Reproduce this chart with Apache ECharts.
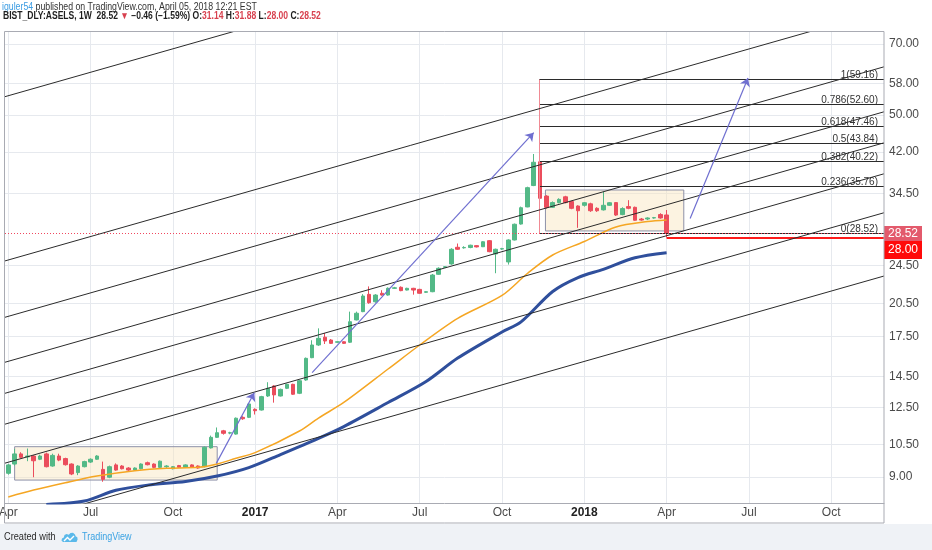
<!DOCTYPE html>
<html>
<head>
<meta charset="utf-8">
<script src="https://cdn.jsdelivr.net/npm/echarts@6/dist/echarts.min.js"></script>
<style>
html,body{margin:0;padding:0;background:#fff;}
#chart{width:932px;height:550px;}
</style>
</head>
<body>
<div id="chart"></div>
<script>
// ---------------- data ----------------
const firstWeek = '2016-04-04';
const opens = [9.16,9.57,10.04,9.90,9.94,9.79,10.04,9.48,9.94,9.82,
  9.57,9.19,9.45,9.66,9.79,9.33,8.99,9.53,9.48,9.39,
  9.30,9.36,9.63,9.57,9.42,9.45,9.36,9.50,9.42,9.53,
  9.48,9.45,10.33,10.86,11.20,11.08,11.03,11.94,11.94,12.40,
  12.36,13.21,13.85,13.21,13.70,13.96,13.38,14.25,15.84,16.82,
  17.45,17.22,17.04,17.08,17.04,18.94,19.70,21.38,20.64,21.49,
  21.31,22.00,22.11,21.82,22.00,21.89,21.59,21.65,23.51,24.30,
  24.69,26.72,26.65,26.69,26.93,26.79,27.57,25.89,26.50,24.93,
  27.66,29.83,32.35,35.80,40.06,34.05,32.29,33.02,33.94,33.18,
  32.49,32.60,32.83,32.14,31.90,32.60,33.02,31.20,32.40,32.29,
  30.55,30.55,30.70,31.20,31.14];
const closes = [9.53,10.04,9.88,9.94,9.72,9.94,9.45,9.97,9.75,9.54,
  9.13,9.48,9.68,9.79,9.94,8.90,9.45,9.30,9.36,9.30,
  9.39,9.57,9.54,9.42,9.70,9.48,9.45,9.42,9.53,9.42,
  9.39,10.36,10.86,11.10,11.07,11.10,11.89,11.86,12.72,12.32,
  13.17,13.70,13.28,13.63,13.96,13.32,14.20,15.79,16.82,17.36,
  17.14,16.95,17.08,16.95,18.78,19.55,21.21,20.55,21.31,21.31,
  22.00,22.05,21.76,22.00,21.82,21.49,21.65,23.43,24.19,24.37,
  26.47,26.47,26.70,26.98,26.77,27.43,26.17,26.47,26.55,27.66,
  29.80,32.23,35.44,39.97,33.70,32.29,33.02,33.53,33.02,32.14,
  31.77,33.00,31.77,31.77,32.60,33.00,31.13,32.10,32.14,30.37,
  30.40,30.70,30.75,30.70,28.52];
const lows = [9.10,9.50,9.84,9.70,8.99,9.75,9.42,9.45,9.70,9.50,
  9.08,9.08,9.42,9.62,9.76,8.80,8.95,9.27,9.33,9.26,
  9.27,9.33,9.51,9.38,9.39,9.40,9.33,9.39,9.39,9.39,
  9.36,9.42,10.30,10.83,11.00,11.02,11.00,11.80,11.90,12.10,
  12.33,13.15,12.80,13.18,13.65,13.28,13.33,14.20,15.80,16.75,
  16.90,16.90,16.98,16.90,16.98,18.90,19.65,20.45,20.55,21.25,
  21.25,21.95,21.70,21.78,21.35,21.45,21.52,21.60,23.45,24.20,
  24.60,26.40,26.55,26.60,26.70,26.75,26.10,23.63,26.40,24.62,
  27.60,29.75,32.30,35.70,33.60,32.10,32.20,32.90,32.90,32.00,
  29.30,32.40,31.60,31.60,31.80,32.50,31.00,31.10,32.00,30.30,
  30.30,30.40,30.60,30.60,28.00];
const highs = [9.58,10.28,10.12,10.30,9.98,10.00,10.10,10.05,10.05,9.86,
  9.60,9.52,9.72,9.83,9.98,9.68,9.50,9.60,9.52,9.43,
  9.42,9.60,9.68,9.60,9.73,9.52,9.48,9.53,9.56,9.56,
  9.51,10.40,10.95,11.38,11.25,11.15,11.93,12.00,12.78,12.46,
  13.22,14.10,13.90,13.68,14.00,14.00,14.25,15.85,17.20,18.20,
  17.80,17.30,17.12,17.12,19.70,19.70,21.40,22.20,21.40,21.80,
  22.10,22.15,22.20,22.06,22.05,21.95,21.70,23.55,24.30,24.45,
  26.60,27.20,26.85,27.05,27.00,27.50,27.65,26.55,26.65,27.75,
  29.90,32.40,35.60,41.57,40.20,34.20,33.20,33.70,34.10,33.30,
  32.60,33.10,33.00,32.30,34.77,33.10,33.10,32.30,33.40,32.40,
  30.70,30.80,30.85,31.40,31.88];

const orangeWeeks  = [0,4,9,14,20,25,30,33,36,39,46,49,53,60,65,71,78,82,86,91,96,101,104];
const orangeValues = [8.19,8.46,8.76,9.04,9.27,9.38,9.42,9.57,9.84,10.10,11.19,11.90,12.81,15.01,16.82,19.08,21.27,23.60,25.76,27.46,29.42,30.19,30.41];
const blueWeeks  = [6,12,17,22,28,33,38,43,49,53,60,66,71,78,81,86,90,94,99,104];
const blueValues = [7.90,8.03,8.45,8.66,8.81,9.04,9.41,10.01,10.81,11.43,12.81,14.15,15.81,17.89,18.76,21.67,23.15,24.07,25.42,26.04];

const priceTicks = [70, 58, 50, 42, 34.5, 24.5, 20.5, 17.5, 14.5, 12.5, 10.5, 9];
const timeTicks = ['2016-04-04','2016-07-04','2016-10-03','2017-01-02','2017-04-03','2017-07-03','2017-10-02','2018-01-01','2018-04-02','2018-07-02','2018-10-01'];
const timeTickLabels = ['Apr','Jul','Oct','2017','Apr','Jul','Oct','2018','Apr','Jul','Oct'];

const fibRatios = ['1','0.786','0.618','0.5','0.382','0.236','0'];
const fibLevels = [59.16,52.60,47.46,43.84,40.22,35.76,28.52];
const fibStart = '2017-11-12';

const channelStartPrices = [54.54,25.05,19.18,15.50,13.38,11.56,9.61,7.12];
const channelEndPrices   = [178.7,82.04,62.83,50.77,43.83,37.85,31.47,23.32];

const boxStarts = ['2016-04-11','2017-11-19'];
const boxEnds   = ['2016-11-21','2018-04-21'];
const boxLows   = [8.87, 28.87];
const boxHighs  = [10.39, 35.05];

const arrowStarts = ['2016-11-20','2017-03-06','2018-04-28'];
const arrowEnds   = ['2017-01-01','2017-11-06','2018-07-01'];
const arrowFrom   = [9.60, 14.75, 30.63];
const arrowTo     = [13.42, 45.99, 59.58];

const lastClose = 28.52, lastLow = 28.00, lastWeek = '2018-04-02';
const axisStart = '2016-03-31T08:24:00Z', axisEnd = '2018-11-28T09:36:00Z';
const priceMin = 7.957, priceMax = 74.09;

// ---------------- build ----------------
const DAY = 86400000;
const t = s => Date.parse(s.length > 10 ? s : s + 'T00:00:00Z');
const xMin = t(axisStart), xMax = t(axisEnd);
const weekDates = opens.map((_, i) => t(firstWeek) + i * 7 * DAY);
const candles = weekDates.map((d, i) => [d, opens[i], closes[i], lows[i], highs[i]]);
const FONT = 'Liberation Sans, Arial, sans-serif';

const gridLines = priceTicks.map(v => ({
  yAxis: v,
  label: {position: 'end', distance: 5, formatter: v.toFixed(2), color: '#4a4a4a', fontSize: 12, fontFamily: FONT}
})).concat(timeTicks.map((d, k) => {
  const isYear = /^\d{4}$/.test(timeTickLabels[k]);
  return {
    xAxis: t(d),
    label: {position: 'start', distance: 4, formatter: timeTickLabels[k],
      color: isYear ? '#222' : '#4a4a4a', fontWeight: isYear ? 'bold' : 'normal', fontSize: 12, fontFamily: FONT}
  };
}));

const fibLines = fibLevels.map((lv, k) => [
  {coord: [t(fibStart), lv], label: {formatter: fibRatios[k] + '(' + lv.toFixed(2) + ')'}},
  {coord: [xMax, lv]}
]);

const channelSeries = channelStartPrices.map((p, k) => ({
  type: 'line', silent: true, showSymbol: false, symbol: 'none', z: 4, clip: true,
  data: [[xMin, p], [xMax, channelEndPrices[k]]],
  lineStyle: {color: '#2b2b2b', width: 1}
}));

const option = {
  animation: false,
  backgroundColor: '#ffffff',
  grid: {left: 5, right: 48, top: 32, bottom: 47, show: false},
  xAxis: {
    type: 'time', min: xMin, max: xMax,
    axisLine: {show: true, onZero: false, lineStyle: {color: '#a9abb3'}},
    axisTick: {show: false}, axisLabel: {show: false}, splitLine: {show: false}
  },
  yAxis: {
    type: 'log', min: priceMin, max: priceMax, position: 'right',
    axisLine: {show: false}, axisTick: {show: false}, axisLabel: {show: false}, splitLine: {show: false}
  },
  series: [
    { // grid lines + axis labels
      type: 'line', data: [], silent: true,
      markLine: {
        silent: true, symbol: ['none', 'none'], z: 0.5, animation: false,
        lineStyle: {color: '#e6e9ee', width: 1, type: 'solid'},
        label: {show: true},
        data: gridLines
      }
    },
    { // rectangles
      type: 'line', data: [], silent: true,
      markArea: {
        silent: true, z: 1,
        itemStyle: {color: 'rgba(249,228,188,0.45)', borderColor: '#8e91a8', borderWidth: 1},
        data: boxStarts.map((s, k) => [{coord: [t(s), boxHighs[k]]}, {coord: [t(boxEnds[k]), boxLows[k]]}])
      }
    },
    {
      type: 'candlestick', z: 2, barWidth: 4,
      encode: {x: 0, y: [1, 2, 3, 4]},
      data: candles,
      itemStyle: {color: '#53b987', color0: '#eb4d5c', borderColor: '#53b987', borderColor0: '#eb4d5c', borderWidth: 1}
    },
    {
      type: 'line', z: 3, showSymbol: false, symbol: 'none', smooth: 0.3, silent: true,
      data: orangeWeeks.map((w, k) => [weekDates[w], orangeValues[k]]),
      lineStyle: {color: '#f5a623', width: 1.5}
    },
    {
      type: 'line', z: 3, showSymbol: false, symbol: 'none', smooth: 0.3, silent: true,
      data: blueWeeks.map((w, k) => [weekDates[w], blueValues[k]]),
      lineStyle: {color: '#2f4f9c', width: 3}
    },
    ...channelSeries,
    { // fib retracement + last price lines
      type: 'line', data: [], silent: true,
      markLine: {
        silent: true, symbol: ['none', 'none'], z: 4, animation: false,
        lineStyle: {color: '#2b2b2b', width: 1, type: 'solid'},
        label: {show: true, position: 'insideEndTop', distance: [6, -1], color: '#333', fontSize: 10, fontFamily: FONT},
        data: fibLines.concat([
          [{coord: [t(fibStart), fibLevels[0]], lineStyle: {color: '#f08a94', width: 1}, label: {show: false}},
           {coord: [t(fibStart), fibLevels[fibLevels.length - 1]]}],
          {yAxis: lastClose, lineStyle: {color: '#f0475f', width: 1, type: [1, 2]}, label: {show: false}},
          [{coord: [t(lastWeek), lastLow], lineStyle: {color: '#ff1a1a', width: 2}, label: {show: false}},
           {coord: [xMax, lastLow]}]
        ])
      }
    },
    { // arrows
      type: 'line', data: [], silent: true,
      markLine: {
        silent: true, symbol: ['none', 'arrow'], symbolSize: 8, z: 5, animation: false,
        lineStyle: {color: '#6f6fd0', width: 1.2, type: 'solid'},
        label: {show: false},
        data: arrowStarts.map((s, k) => [{coord: [t(s), arrowFrom[k]]}, {coord: [t(arrowEnds[k]), arrowTo[k]]}])
      }
    },
    { // price tags on the axis
      type: 'line', data: [], silent: true,
      markPoint: {
        silent: true, z: 6, animation: false,
        data: [
          {coord: [xMax, lastClose], symbol: 'rect', symbolSize: [38, 15], symbolOffset: [19, 0],
           itemStyle: {color: '#e35a6c'},
           label: {show: true, position: 'inside', formatter: lastClose.toFixed(2), color: '#fff', fontSize: 12, fontFamily: FONT}},
          {coord: [xMax, lastLow], symbol: 'rect', symbolSize: [38, 18], symbolOffset: [19, 12.5],
           itemStyle: {color: '#ff0a0a'},
           label: {show: true, position: 'inside', formatter: lastLow.toFixed(2), color: '#fff', fontSize: 12, fontFamily: FONT}}
        ]
      }
    }
  ],
  graphic: [
    {type: 'rect', silent: true, z: 10, shape: {x: 4.5, y: 31.5, width: 879.5, height: 491.5},
     style: {fill: 'none', stroke: '#a9abb3', lineWidth: 1}},
    {type: 'rect', silent: true, z: 9, shape: {x: 0, y: 524, width: 932, height: 26},
     style: {fill: '#eff2f6'}},
    {type: 'text', silent: true, z: 11, x: 2, y: 7, scaleX: 0.875,
     style: {text: '{u|iguler54} published on TradingView.com, April 05, 2018 12:21 EST',
       rich: {u: {fill: '#3c9de3', fontSize: 10, fontFamily: FONT}},
       fill: '#333', fontSize: 10, fontFamily: FONT, verticalAlign: 'middle'}},
    {type: 'text', silent: true, z: 11, x: 3, y: 16.5, scaleX: 0.855,
     style: {text: '{b|BIST_DLY:ASELS, 1W}  {b|28.52} {r|▼} {b|−0.46 (−1.59%)} {b|O:}{r|31.14} {b|H:}{r|31.88} {b|L:}{r|28.00} {b|C:}{r|28.52}',
       rich: {
         b: {fill: '#1e1e1e', fontSize: 10, fontWeight: 'bold', fontFamily: FONT},
         r: {fill: '#d8414f', fontSize: 10, fontWeight: 'bold', fontFamily: FONT}
       },
       fill: '#1e1e1e', fontSize: 10, fontFamily: FONT, verticalAlign: 'middle'}},
    {type: 'text', silent: true, z: 11, x: 4, y: 537, scaleX: 0.92,
     style: {text: 'Created with', fill: '#2a2a2a', fontSize: 10, fontFamily: FONT, verticalAlign: 'middle'}},
    {type: 'polygon', silent: true, z: 11, x: 61, y: 531,
     shape: {points: [[2,11],[0.5,9.5],[1,7.5],[2.8,6.5],[3.5,4],[5.5,3],[7.8,3.8],[9.5,2],[12,1.8],[14,3.5],[14.6,5.2],[16.3,6.2],[16.6,8.5],[15.5,11]]},
     style: {fill: '#5ab9ea'}},
    {type: 'polyline', silent: true, z: 12, x: 61, y: 531,
     shape: {points: [[3, 10], [6.5, 6.5], [9, 9], [13, 5]]},
     style: {stroke: '#ffffff', lineWidth: 1.4, fill: 'none'}},
    {type: 'text', silent: true, z: 11, x: 82, y: 537, scaleX: 0.9,
     style: {text: 'TradingView', fill: '#3ba3e3', fontSize: 10, fontFamily: FONT, verticalAlign: 'middle'}}
  ]
};

const chart = echarts.init(document.getElementById('chart'), null, {renderer: 'canvas'});
chart.setOption(option);
</script>
</body>
</html>
